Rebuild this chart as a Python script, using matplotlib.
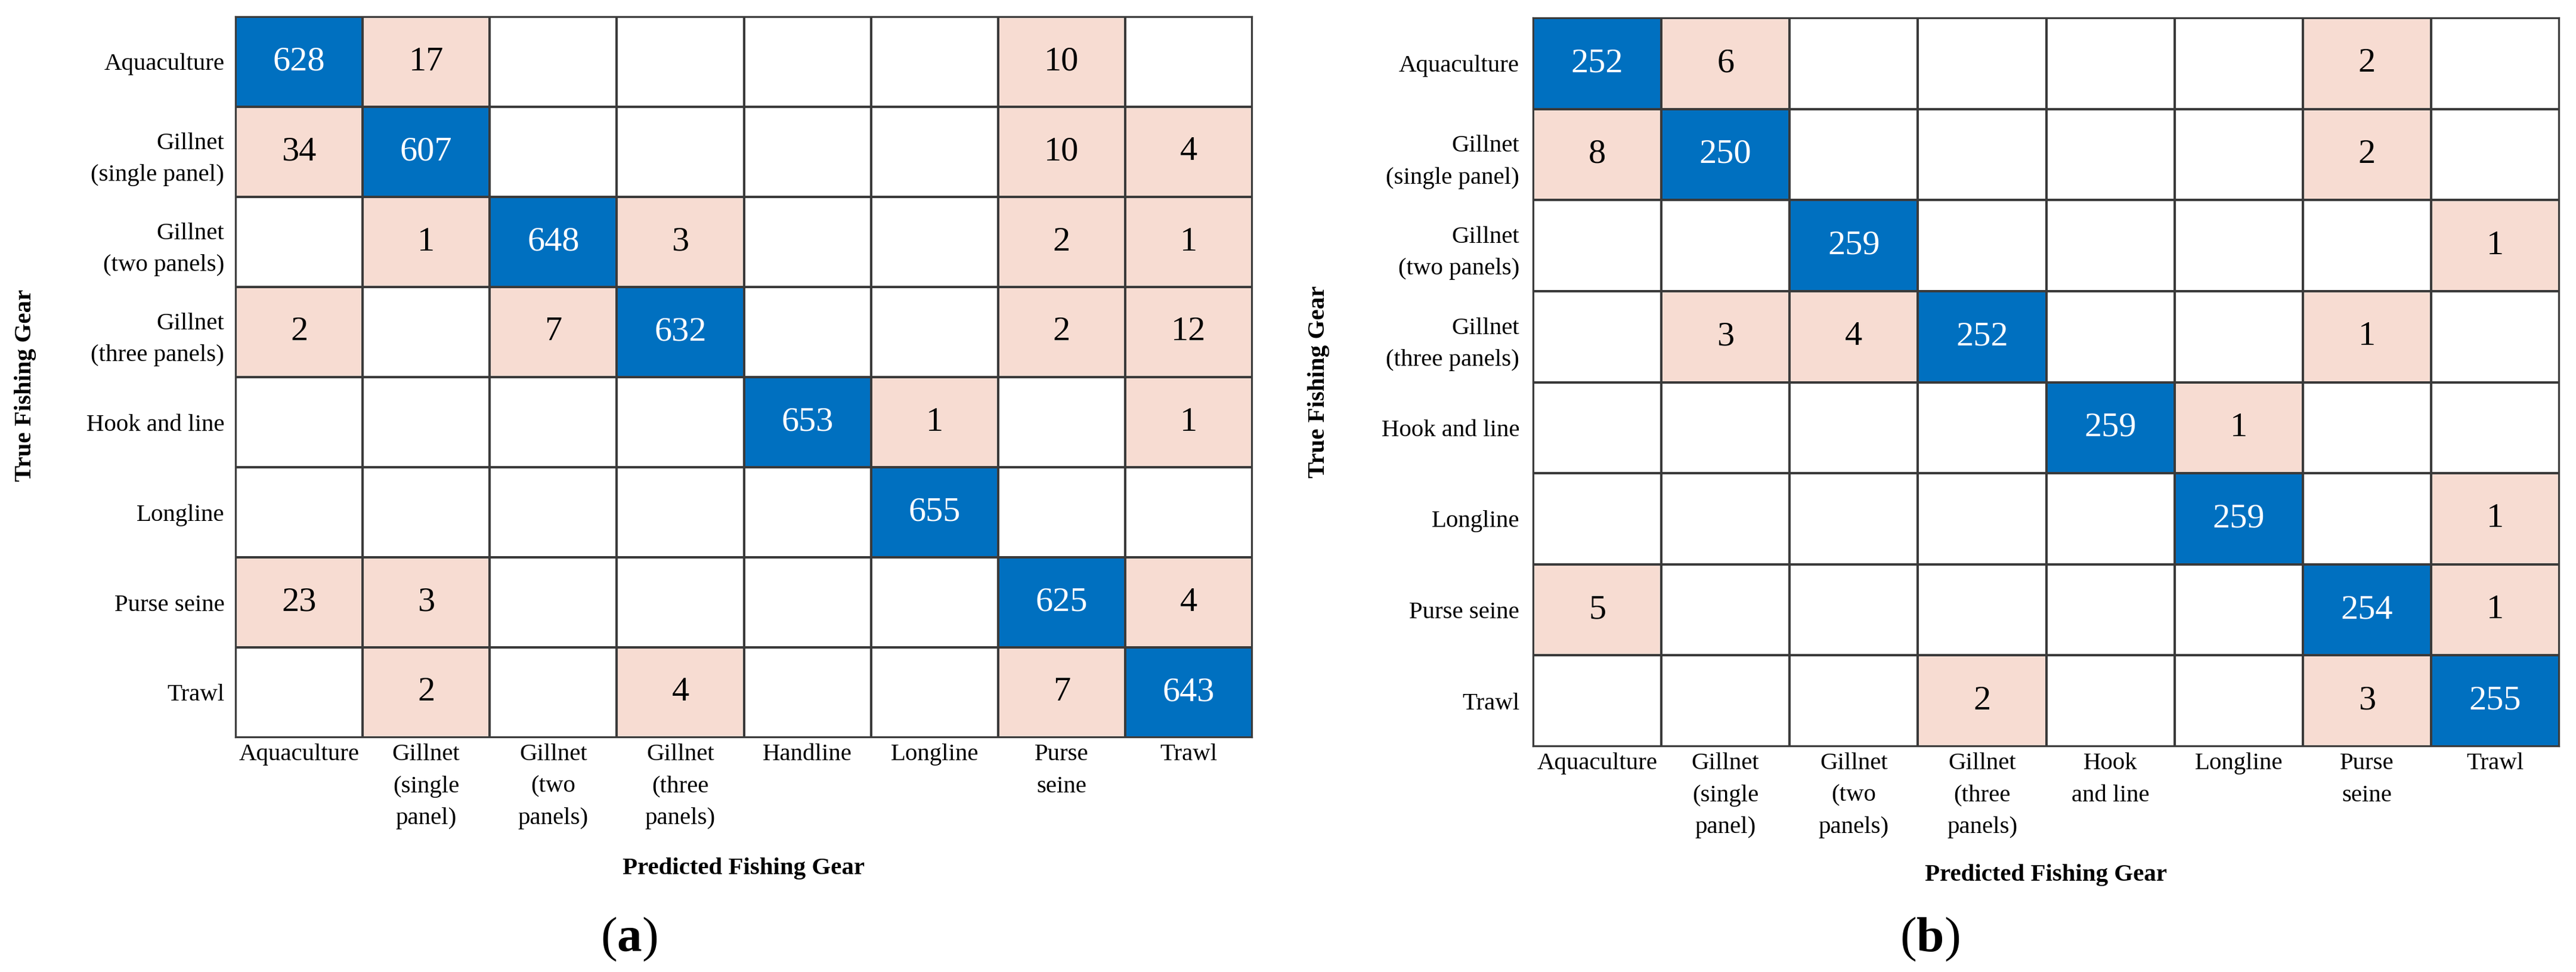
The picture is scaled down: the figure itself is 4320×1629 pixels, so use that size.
import numpy as np
import matplotlib
matplotlib.use("Agg")
import matplotlib.pyplot as plt
from matplotlib.colors import ListedColormap

# ---------------- data ----------------
true_labels_a = ["Aquaculture", "Gillnet\n(single panel)", "Gillnet\n(two panels)",
                 "Gillnet\n(three panels)", "Hook and line", "Longline",
                 "Purse seine", "Trawl"]
pred_labels_a = ["Aquaculture", "Gillnet\n(single\npanel)", "Gillnet\n(two\npanels)",
                 "Gillnet\n(three\npanels)", "Handline", "Longline", "Purse\nseine", "Trawl"]
counts_a = [
    [628, 17, 0, 0, 0, 0, 10, 0],
    [34, 607, 0, 0, 0, 0, 10, 4],
    [0, 1, 648, 3, 0, 0, 2, 1],
    [2, 0, 7, 632, 0, 0, 2, 12],
    [0, 0, 0, 0, 653, 1, 0, 1],
    [0, 0, 0, 0, 0, 655, 0, 0],
    [23, 3, 0, 0, 0, 0, 625, 4],
    [0, 2, 0, 4, 0, 0, 7, 643],
]

true_labels_b = ["Aquaculture", "Gillnet\n(single panel)", "Gillnet\n(two panels)",
                 "Gillnet\n(three panels)", "Hook and line", "Longline",
                 "Purse seine", "Trawl"]
pred_labels_b = ["Aquaculture", "Gillnet\n(single\npanel)", "Gillnet\n(two\npanels)",
                 "Gillnet\n(three\npanels)", "Hook\nand line", "Longline", "Purse\nseine", "Trawl"]
counts_b = [
    [252, 6, 0, 0, 0, 0, 2, 0],
    [8, 250, 0, 0, 0, 0, 2, 0],
    [0, 0, 259, 0, 0, 0, 0, 1],
    [0, 3, 4, 252, 0, 0, 1, 0],
    [0, 0, 0, 0, 259, 1, 0, 0],
    [0, 0, 0, 0, 0, 259, 0, 1],
    [5, 0, 0, 0, 0, 0, 254, 1],
    [0, 0, 0, 2, 0, 0, 3, 255],
]

x_title = "Predicted Fishing Gear"
y_title = "True Fishing Gear"
panel_tags = ["a", "b"]

# ---------------- style ----------------
plt.rcParams["font.family"] = ["Liberation Serif", "DejaVu Serif"]
plt.rcParams["mathtext.fontset"] = "custom"
plt.rcParams["mathtext.rm"] = "Liberation Serif"
plt.rcParams["mathtext.bf"] = "Liberation Serif:bold"

BLUE = "#0070C0"
PINK = "#F7DCD2"
EDGE = "#3a3a3a"
LW = 0.55
TICK_FS = 9.8
NUM_FS = 14
LSP = 1.58

W, H = 4320, 1629
fig = plt.figure(figsize=(W / 300, H / 300), dpi=300)


def rect(l, t, r, b):
    return [l / W, 1 - b / H, (r - l) / W, (b - t) / H]


def draw(ax, counts, ylabels, xlabels, ypad, xpad, xlab_y, ylab_xy):
    m = np.array(counts)
    n = m.shape[0]
    cat = np.where(np.eye(n, dtype=bool), 2, np.where(m > 0, 1, 0))
    ax.pcolormesh(np.arange(n + 1), np.arange(n + 1), cat,
                  cmap=ListedColormap(["white", PINK, BLUE]), vmin=-0.5, vmax=2.5,
                  edgecolors=EDGE, linewidth=LW)
    ax.set_xlim(0, n)
    ax.set_ylim(n, 0)
    for i in range(n):
        for j in range(n):
            if m[i, j] > 0:
                ax.text(j + 0.5, i + 0.5, str(m[i, j]), ha="center", va="center",
                        fontsize=NUM_FS, color="white" if i == j else "black")
    ax.set_xticks(np.arange(n) + 0.5)
    ax.set_xticklabels(xlabels, fontsize=TICK_FS, linespacing=LSP)
    ax.set_yticks(np.arange(n) + 0.5)
    ax.set_yticklabels(ylabels, fontsize=TICK_FS, linespacing=LSP)
    ax.tick_params(length=0)
    ax.tick_params(axis="y", pad=ypad)
    ax.tick_params(axis="x", pad=xpad)
    for s in ax.spines.values():
        s.set_color(EDGE)
        s.set_linewidth(LW)
    ax.set_xlabel(x_title, fontsize=TICK_FS, fontweight="bold", va="center")
    ax.xaxis.set_label_coords(0.5, xlab_y)
    ax.set_ylabel(y_title, fontsize=TICK_FS, fontweight="bold", va="center", ha="center")
    ax.yaxis.set_label_coords(*ylab_xy)


ax_a = fig.add_axes(rect(395, 28, 2100, 1236))
draw(ax_a, counts_a, true_labels_a, pred_labels_a, ypad=4.5, xpad=2.5,
     xlab_y=-0.1813, ylab_xy=(-0.2065, 0.4884))

ax_b = fig.add_axes(rect(2571, 30, 4292, 1251))
draw(ax_b, counts_b, true_labels_b, pred_labels_b, ypad=5.5, xpad=2.5,
     xlab_y=-0.1769, ylab_xy=(-0.2086, 0.5004))

fig.text(1055 / W, 1 - 1574 / H, r"($\mathbf{%s}$)" % panel_tags[0], fontsize=20,
         ha="center", va="center")
fig.text(3236 / W, 1 - 1574 / H, r"($\mathbf{%s}$)" % panel_tags[1], fontsize=20,
         ha="center", va="center")

fig.savefig("out.png", dpi=300, facecolor="white")
